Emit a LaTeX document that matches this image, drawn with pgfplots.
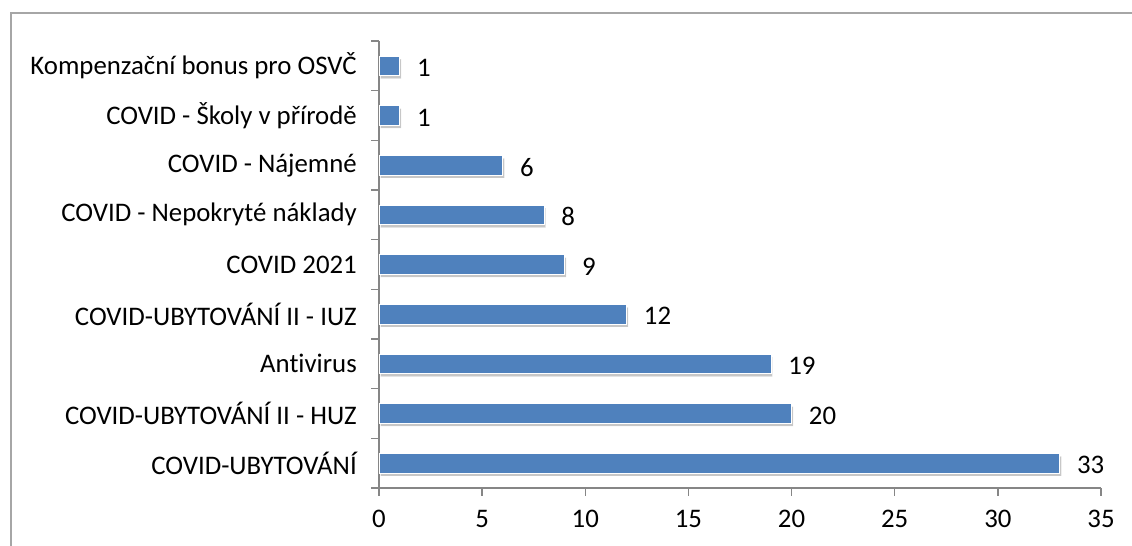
\documentclass[border=0pt]{standalone}
\usepackage{fontspec}
\setmainfont[Ligatures=NoCommon]{Carlito}
\usepackage{pgfplots}
\pgfplotsset{compat=1.18}
\usetikzlibrary{shadows}
\definecolor{barblue}{HTML}{4F81BD}
\definecolor{axisgray}{HTML}{868686}
\definecolor{framegray}{HTML}{A6A6A6}
\newcommand{\cf}{\fontsize{26.8bp}{30bp}\selectfont}
\begin{document}
\begin{tikzpicture}[x=1bp,y=1bp]
\useasboundingbox (0,0) rectangle (1132,546);
\draw[framegray, line width=2bp] (11,-2) -- (11,533) -- (1134,533);
\begin{axis}[
  at={(379bp,58bp)}, anchor=south west,
  scale only axis, width=722bp, height=447bp,
  xbar, bar width=19.5bp,
  xmin=0, xmax=35, ymin=-0.5, ymax=8.5,
  xtick={0,5,...,35},
  ytick={0,...,8},
  yticklabels={COVID-UBYTOVÁNÍ, COVID-UBYTOVÁNÍ II - HUZ, Antivirus, COVID-UBYTOVÁNÍ II - IUZ, COVID 2021, COVID - Nepokryté náklady, COVID - Nájemné, COVID - Školy v přírodě, Kompenzační bonus pro OSVČ},
  minor ytick={-0.5,0.5,...,8.5},
  axis x line*=bottom, axis y line*=left,
  axis line style={axisgray, line width=1.5bp},
  tick style={axisgray, line width=1.5bp},
  major tick length=8bp, minor tick length=8bp, tick align=outside,
  major y tick style={draw=none},
  tick label style={font=\cf, black},
  /pgf/number format/assume math mode=true,
  yticklabel style={inner sep=0pt, anchor=east, xshift=-14bp},
  xticklabel style={inner sep=0pt, anchor=north, yshift=-14bp},
  nodes near coords,
  nodes near coords style={font=\cf, black, anchor=west, inner sep=0pt, xshift=17bp, yshift=-2bp},
  clip=false,
]
\addplot[fill=barblue, draw=white, line width=0.8bp,
  drop shadow={shadow xshift=1.5bp, shadow yshift=-3bp, opacity=0.22, fill=black}]
  coordinates {(33,0) (20,1) (19,2) (12,3) (9,4) (8,5) (6,6) (1,7) (1,8)};
\end{axis}
\end{tikzpicture}
\end{document}
